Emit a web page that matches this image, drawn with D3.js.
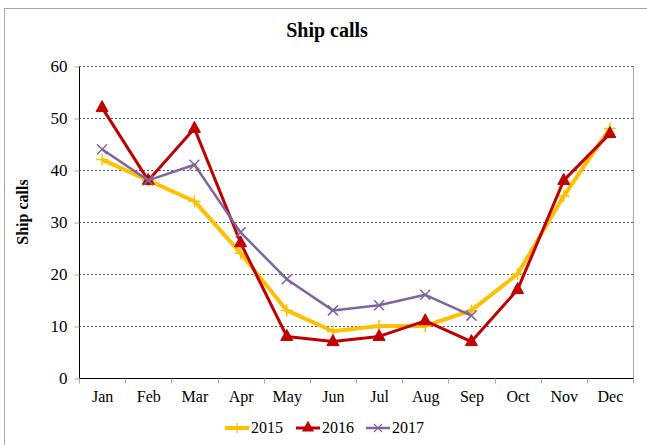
<!DOCTYPE html>
<html><head><meta charset="utf-8">
<script src="https://cdn.jsdelivr.net/npm/d3@7/dist/d3.min.js"></script>
<style>body{margin:0;background:#fff}svg{display:block}</style>
</head><body>
<svg id="c" width="647" height="445"></svg>
<script>
const months = ["Jan","Feb","Mar","Apr","May","Jun","Jul","Aug","Sep","Oct","Nov","Dec"];
const s2015 = [42,38,34,24,13,9,10,10,13,20,35,48];
const s2016 = [52,38,48,26,8,7,8,11,7,17,38,47];
const s2017 = [44,38,41,28,19,13,14,16,12];
const yTicks = [0,10,20,30,40,50,60];
const seriesNames = ["2015","2016","2017"];

const FF = '"Liberation Serif"';
const svg = d3.select("#c");
const L=79,R=633,T=66,B=378;
const x = d3.scaleBand().domain(months).range([L,R]);
const y = d3.scaleLinear().domain([0,60]).range([B,T]);

// outer border
svg.append("rect").attr("x",4.5).attr("y",8.5).attr("width",660).attr("height",460)
  .attr("fill","none").attr("stroke","#a6a6a6").attr("stroke-width",1);

// grid
svg.append("g").selectAll("line").data(yTicks.filter(d=>d>0)).join("line")
  .attr("x1",L).attr("x2",R).attr("y1",d=>Math.round(y(d))+0.5).attr("y2",d=>Math.round(y(d))+0.5)
  .attr("stroke","#555").attr("stroke-dasharray","2,2").attr("stroke-width",1);
// right border
svg.append("line").attr("x1",R+0.5).attr("x2",R+0.5).attr("y1",T).attr("y2",B+5).attr("stroke","#a6a6a6");

// y axis
const ya = svg.append("g").attr("transform",`translate(${L+0.5},0.5)`)
  .call(d3.axisLeft(y).tickValues(yTicks).tickSize(5).tickPadding(7));
ya.attr("font-family",null);
ya.select(".domain").attr("stroke","#000").attr("d",`M0,${T}V${B}`);
ya.selectAll(".tick line").attr("stroke","#a6a6a6");
ya.selectAll("text").style("font-family",FF).style("font-size","17px").attr("fill","#000");

// x axis
const xa = svg.append("g").attr("transform",`translate(0.5,${B+0.5})`)
  .call(d3.axisBottom(x).tickSize(0).tickPadding(12));
xa.attr("font-family",null);
xa.select(".domain").attr("stroke","#000").attr("d",`M${L},0H${R}`);
xa.selectAll("text").style("font-family",FF).style("font-size","16px").attr("fill","#000");
const bounds = months.map((m)=>x(m)).concat([R]);
xa.append("g").selectAll("line").data(bounds).join("line")
  .attr("x1",d=>Math.round(d)).attr("x2",d=>Math.round(d)).attr("y1",0).attr("y2",5).attr("stroke","#a6a6a6");

const cx = d=>x(d)+x.bandwidth()/2;
const line = d3.line().x((d,i)=>cx(months[i])).y(d=>y(d));

// 2015
svg.append("path").datum(s2015).attr("d",line).attr("fill","none").attr("stroke","#FFC000").attr("stroke-width",4).attr("stroke-linejoin","round");
svg.append("g").selectAll("path").data(s2015).join("path")
  .attr("d",(d,i)=>{const px=cx(months[i]),py=y(d);return `M${px-6},${py}H${px+6}M${px},${py-6}V${py+6}`;})
  .attr("stroke","#FFC000").attr("stroke-width",1.5);
// 2016
svg.append("path").datum(s2016).attr("d",line).attr("fill","none").attr("stroke","#C00000").attr("stroke-width",3).attr("stroke-linejoin","round");
svg.append("g").selectAll("path").data(s2016).join("path")
  .attr("d",(d,i)=>{const px=cx(months[i]),py=y(d);return `M${px},${py-7}L${px+6},${py+4}L${px-6},${py+4}Z`;})
  .attr("fill","#C00000").attr("stroke","#C00000").attr("stroke-width",1);
// 2017
svg.append("path").datum(s2017).attr("d",line).attr("fill","none").attr("stroke","#8064A2").attr("stroke-width",2.5).attr("stroke-linejoin","round");
svg.append("g").selectAll("path").data(s2017).join("path")
  .attr("d",(d,i)=>{const px=cx(months[i]),py=y(d);return `M${px-5},${py-5}L${px+5},${py+5}M${px+5},${py-5}L${px-5},${py+5}`;})
  .attr("stroke","#8064A2").attr("stroke-width",1.5);

// title
svg.append("text").attr("x",327).attr("y",37).attr("text-anchor","middle")
  .style("font-family",FF).style("font-weight","bold").style("font-size","20px").text("Ship calls");
// y label
svg.append("text").attr("transform","translate(28,212) rotate(-90)").attr("text-anchor","middle")
  .style("font-family",FF).style("font-weight","bold").style("font-size","16px").text("Ship calls");

// legend
const leg = [{n:seriesNames[0],c:"#FFC000",x:225,w:4,m:"plus"},{n:seriesNames[1],c:"#C00000",x:296,w:3,m:"tri"},{n:seriesNames[2],c:"#8064A2",x:366,w:2.5,m:"x"}];
const lg = svg.append("g");
leg.forEach(l=>{
  const yy=428, mx=l.x+12;
  lg.append("line").attr("x1",l.x).attr("x2",l.x+24).attr("y1",yy).attr("y2",yy).attr("stroke",l.c).attr("stroke-width",l.w);
  let d;
  if(l.m==="plus") d=`M${mx-5},${yy}H${mx+5}M${mx},${yy-5}V${yy+5}`;
  else if(l.m==="tri") d=`M${mx},${yy-6}L${mx+5},${yy+3}L${mx-5},${yy+3}Z`;
  else d=`M${mx-4},${yy-4}L${mx+4},${yy+4}M${mx+4},${yy-4}L${mx-4},${yy+4}`;
  lg.append("path").attr("d",d).attr("stroke",l.c).attr("fill",l.m==="tri"?l.c:"none").attr("stroke-width",1.2);
  lg.append("text").attr("x",l.x+26).attr("y",yy+5).style("font-family",FF).style("font-size","16px").text(l.n);
});
</script>
</body></html>
